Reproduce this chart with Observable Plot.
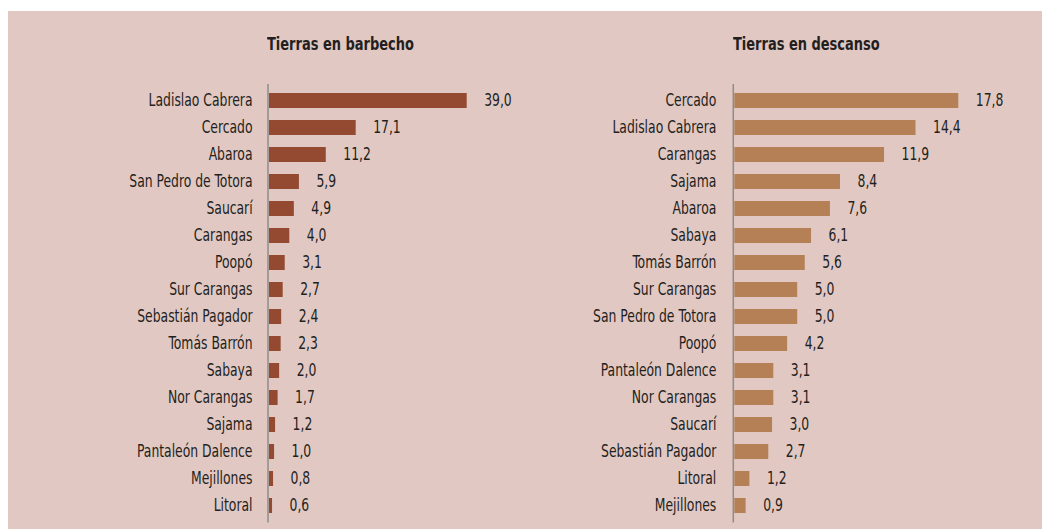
<!DOCTYPE html>
<html>
<head>
<meta charset="utf-8">
<script src="https://cdn.jsdelivr.net/npm/d3@7"></script>
<script src="https://cdn.jsdelivr.net/npm/@observablehq/plot@0.6"></script>
<style>
  html, body { margin: 0; padding: 0; background: #ffffff; }
  #wrap { position: relative; width: 1042px; height: 529px; overflow: hidden; }
  #bg { position: absolute; left: 8px; top: 11px; right: 0; bottom: 0; background: #e2c8c3; }
  .title { position: absolute; top: 35px; font-family: "Liberation Sans Narrow", "DejaVu Sans Condensed", sans-serif; font-weight: bold; font-size: 18.5px; line-height: 18px; color: #231f20; white-space: nowrap; transform: scaleX(0.78); transform-origin: left center; }
  .panel { position: absolute; top: 0; }
</style>
</head>
<body>
<div id="wrap">
  <div id="bg"></div>
  <div class="title" id="t1" style="left:267px">Tierras en barbecho</div>
  <div class="title" id="t2" style="left:733px">Tierras en descanso</div>
  <div class="panel" id="p1" style="left:0px"></div>
  <div class="panel" id="p2" style="left:521px"></div>
</div>
<script>
const barbechoCats = ["Ladislao Cabrera","Cercado","Abaroa","San Pedro de Totora","Saucarí","Carangas","Poopó","Sur Carangas","Sebastián Pagador","Tomás Barrón","Sabaya","Nor Carangas","Sajama","Pantaleón Dalence","Mejillones","Litoral"];
const barbechoVals = [39.0,17.1,11.2,5.9,4.9,4.0,3.1,2.7,2.4,2.3,2.0,1.7,1.2,1.0,0.8,0.6];

const descansoCats = ["Cercado","Ladislao Cabrera","Carangas","Sajama","Abaroa","Sabaya","Tomás Barrón","Sur Carangas","San Pedro de Totora","Poopó","Pantaleón Dalence","Nor Carangas","Saucarí","Sebastián Pagador","Litoral","Mejillones"];
const descansoVals = [17.8,14.4,11.9,8.4,7.6,6.1,5.6,5.0,5.0,4.2,3.1,3.1,3.0,2.7,1.2,0.9];

const fmt = v => d3.format(".1f")(v).replace(".", ",");
const font = '"Liberation Sans Narrow", "DejaVu Sans Condensed", sans-serif';
const NARROW = 0.81;

function narrowText(svg) {
  svg.querySelectorAll("text").forEach(t => {
    const b = t.getBBox();
    const anchor = getComputedStyle(t).textAnchor;
    const ax = anchor === "end" ? b.x + b.width : anchor === "middle" ? b.x + b.width / 2 : b.x;
    const prev = t.getAttribute("transform") || "";
    t.setAttribute("transform", `${prev} translate(${ax},0) scale(${NARROW},1) translate(${-ax},0)`.trim());
  });
}

function panel(cats, vals, color, opts) {
  const data = cats.map((c, i) => ({cat: c, val: vals[i]}));
  return Plot.plot({
    width: 521,
    height: 529,
    marginTop: 84,
    marginBottom: 6.6,
    marginLeft: opts.ml,
    marginRight: opts.mr,
    style: {background: "transparent", fontFamily: font, fontSize: "17px", color: "#231f20"},
    x: {domain: [0, opts.xmax], axis: null},
    y: {domain: cats, paddingInner: 0.45, paddingOuter: 0.225, label: null},
    marks: [
      Plot.barX(data, {x: "val", y: "cat", fill: color}),
      Plot.ruleX([0], {stroke: "#8c8c8c", strokeWidth: 1.5, dx: -1.5}),
      Plot.axisY({tickSize: 0, tickPadding: opts.tp, label: null, fontSize: 17}),
      Plot.text(data, {x: "val", y: "cat", text: d => fmt(d.val), dx: 17, textAnchor: "start", fill: "#231f20", fontSize: 17})
    ]
  });
}

const s1 = panel(barbechoCats, barbechoVals, "#934a31", {ml: 269, mr: 54.3, xmax: 39.0, tp: 17});
const s2 = panel(descansoCats, descansoVals, "#b58055", {ml: 213.3, mr: 83.7, xmax: 17.8, tp: 18.5});
document.getElementById("p1").appendChild(s1);
document.getElementById("p2").appendChild(s2);
narrowText(s1);
narrowText(s2);
</script>
</body>
</html>
